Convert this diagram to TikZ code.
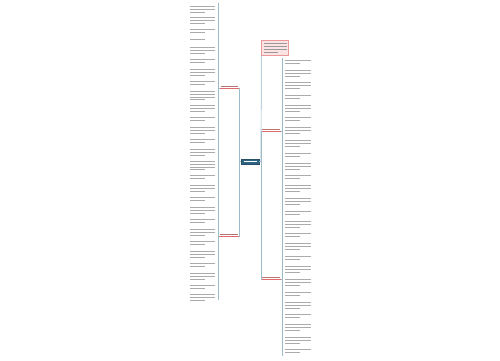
\documentclass[tikz,border=0pt]{standalone}
\usetikzlibrary{calc}
\definecolor{conn}{HTML}{9DBCCB}
\definecolor{txtgray}{HTML}{ABABAB}
\definecolor{centerblue}{HTML}{2F6485}
\definecolor{redline}{HTML}{E06A6A}
\definecolor{pinkfill}{HTML}{FBE3E3}
\begin{document}
\begin{tikzpicture}[x=1pt,y=-1pt,
  connector/.style={draw=conn,line width=0.7pt},
  txtbar/.style={draw=txtgray,line width=0.8pt},
  centerbox/.style={draw=centerblue!80!black,fill=centerblue,minimum width=18pt,minimum height=4.5pt,inner sep=0pt},
  branch/.style={minimum width=19pt,minimum height=3pt,inner sep=0pt},
  notebox/.style={draw=redline!70,fill=pinkfill,minimum width=27pt,minimum height=15pt,inner sep=0pt,line width=0.4pt}]
\useasboundingbox[fill=white] (0,0) rectangle (500,360);
% central node
\node[centerbox] (c) at (250,161.5) {};
\draw[white,line width=0.8pt] (243.5,161.5) -- (256.5,161.5);
% branch nodes
\node[branch] (L1) at (229.5,86.5) {};
\node[branch] (L2) at (229,234.5) {};
\node[branch] (R1) at (271,129.5) {};
\node[branch] (R2) at (271,277.5) {};
\foreach \n in {L1,L2,R1,R2}{
  \draw[draw=redline!60!gray,line width=0.8pt] ($(\n.west)+(1,-0.5)$) -- ($(\n.east)+(-1,-0.5)$);
  \draw[redline,line width=0.5pt] (\n.south west) -- (\n.south east);
}
% note box
\node[notebox] (P) at (275,47.5) {};
\foreach \k in {1,...,4}{
  \pgfmathsetmacro\len{\k==4 ? 14 : 23}
  \draw[draw=gray!80,line width=0.8pt] (263.5,40+\k*3) -- ++(\len,0);
}
% spine coordinates
\coordinate (sL) at (239,161.5);
\coordinate (sR) at (261,161.5);
\coordinate (lc1) at (218,3);
\coordinate (lc2) at (218,190);
\coordinate (lc3) at (218,300);
\coordinate (rc1) at (282,58);
\coordinate (rc2) at (282,250);
\coordinate (rc3) at (282,356);
% connectors
\draw[connector] (c.west) -- (sL);
\draw[connector] (sL) |- (L1.south east);
\draw[connector] (sL) |- (L2.south east);
\draw[connector] (c.east) -- (sR);
\draw[connector] (sR) |- (R1.south west);
\draw[connector] (sR) |- (R2.south west);
\draw[connector] (sR) -- (P.south west);
\draw[connector] (L1.south west) -- (lc1 |- L1.south west);
\draw[connector] (lc1) -- (lc2);
\draw[connector] (L2.south west) -- (lc2 |- L2.south west);
\draw[connector] (lc2) -- (lc3);
\draw[connector] (R1.south east) -- (rc1 |- R1.south east);
\draw[connector] (rc1) -- (rc2);
\draw[connector] (R2.south east) -- (rc2 |- R2.south east);
\draw[connector] (rc2) -- (rc3);
% left leaf text blocks
\foreach \y/\n in {4/3,15/3,27/2,37/1,45/3,57/2,67/3,79/2,89/4,103/3,115/2,125/3,137/2,147/3,159/4,173/2,183/3,195/2,205/3,217/2,227/3,239/2,249/3,261/2,271/3,283/2,292/3}{
  \foreach \k in {1,...,\n}{
    \pgfmathsetmacro\len{\k==\n ? 15 : 25}
    \draw[txtbar] (190,\y+\k*2.7) -- ++(\len,0);
  }
}
% right leaf text blocks
\foreach \y/\n in {58/2,68/3,80/3,93/2,103/3,115/2,125/3,138/3,151/2,161/3,173/2,183/3,196/3,209/2,219/3,231/2,241/3,254/2,264/3,277/3,290/2,300/3,312/2,322/3,335/3,347/2}{
  \foreach \k in {1,...,\n}{
    \pgfmathsetmacro\len{\k==\n ? 15 : 26}
    \draw[txtbar] (285,\y+\k*2.7) -- ++(\len,0);
  }
}
\end{tikzpicture}
\end{document}
